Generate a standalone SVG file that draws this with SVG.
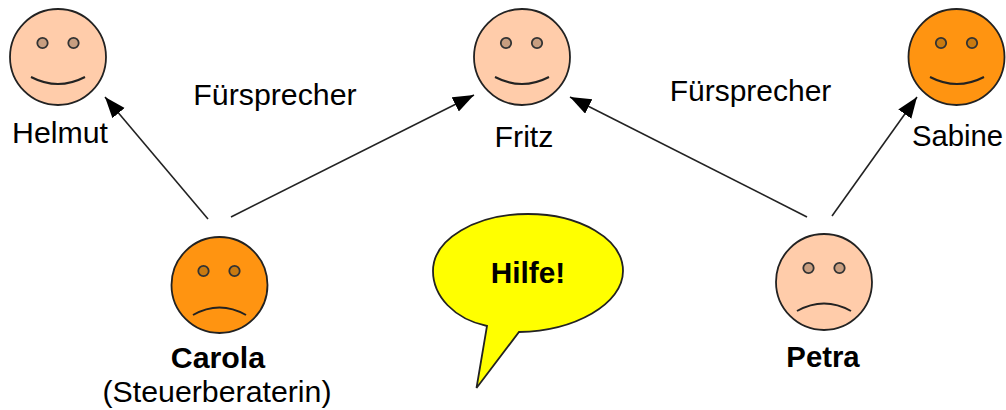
<svg xmlns="http://www.w3.org/2000/svg" width="1006" height="410" viewBox="0 0 1006 410">
<style>
text{font-family:"Liberation Sans",Arial,sans-serif;font-size:30.300px;fill:#000;text-anchor:middle}
.b{font-weight:bold}
.s{font-size:29.300px}
.f{stroke:#222;stroke-width:1.8}
.skin{fill:#ffccaa}.or{fill:#ff9411}
.se{fill:#c89e80;stroke:#333;stroke-width:1.8}
.oe{fill:#c97a10;stroke:#333;stroke-width:1.8}
.m{fill:none;stroke:#222;stroke-width:2}
.c{stroke:#222;stroke-width:1.6;fill:none;marker-end:url(#a)}
</style>
<defs><marker id="a" markerUnits="userSpaceOnUse" markerWidth="24" markerHeight="20" refX="21" refY="8" orient="auto"><path d="M0 0L21 8L0 16Z" fill="#000"/></marker></defs>
<g id="connectors">
<line class="c" x1="208" y1="219" x2="105" y2="97"/>
<line class="c" x1="231" y1="217" x2="474" y2="95"/>
<line class="c" x1="807" y1="217" x2="570" y2="97"/>
<line class="c" x1="832" y1="216" x2="917" y2="97"/>
</g>
<g id="helmut"><circle class="f skin" cx="58" cy="57" r="48"/><circle class="se" cx="42.500" cy="43" r="5.200"/><circle class="se" cx="73.500" cy="43" r="5.200"/><path class="m" d="M31 77Q58 91 85 77"/><text x="60" y="143">Helmut</text></g>
<g id="fritz"><circle class="f skin" cx="522" cy="57" r="48"/><circle class="se" cx="506" cy="43" r="5.200"/><circle class="se" cx="537" cy="43" r="5.200"/><path class="m" d="M495 77Q522 91 549 77"/><text x="524" y="147">Fritz</text></g>
<g id="sabine"><circle class="f or" cx="956.500" cy="57" r="48"/><circle class="oe" cx="941" cy="43" r="5.200"/><circle class="oe" cx="972" cy="43" r="5.200"/><path class="m" d="M930 77Q957 91 984 77"/><text class="s" x="957.500" y="146">Sabine</text></g>
<g id="carola"><circle class="f or" cx="219.500" cy="285" r="48"/><circle class="oe" cx="203.500" cy="271" r="5.200"/><circle class="oe" cx="234.500" cy="271" r="5.200"/><path class="m" d="M193 315Q219.500 300 246 315"/><text class="b" x="218" y="368">Carola</text><text x="217" y="402">(Steuerberaterin)</text></g>
<g id="petra"><circle class="f skin" cx="824" cy="282" r="48"/><circle class="se" cx="808.500" cy="268" r="5.200"/><circle class="se" cx="839.500" cy="268" r="5.200"/><path class="m" d="M797 311Q824 296 851 311"/><text class="b s" x="823" y="367">Petra</text></g>
<g id="bubble"><path class="f" fill="#ffff00" d="M487 326C454 319 433 296 433 271C433 239 476 214 528 214C580 214 623 239 623 271C623 304 575 331 519 332L476.500 388Z"/><text class="b" x="528" y="283" style="font-size:29.800px">Hilfe!</text></g>
<g id="labels"><text x="275" y="105">Fürsprecher</text><text x="750.500" y="101" style="font-size:30px">Fürsprecher</text></g>
</svg>
